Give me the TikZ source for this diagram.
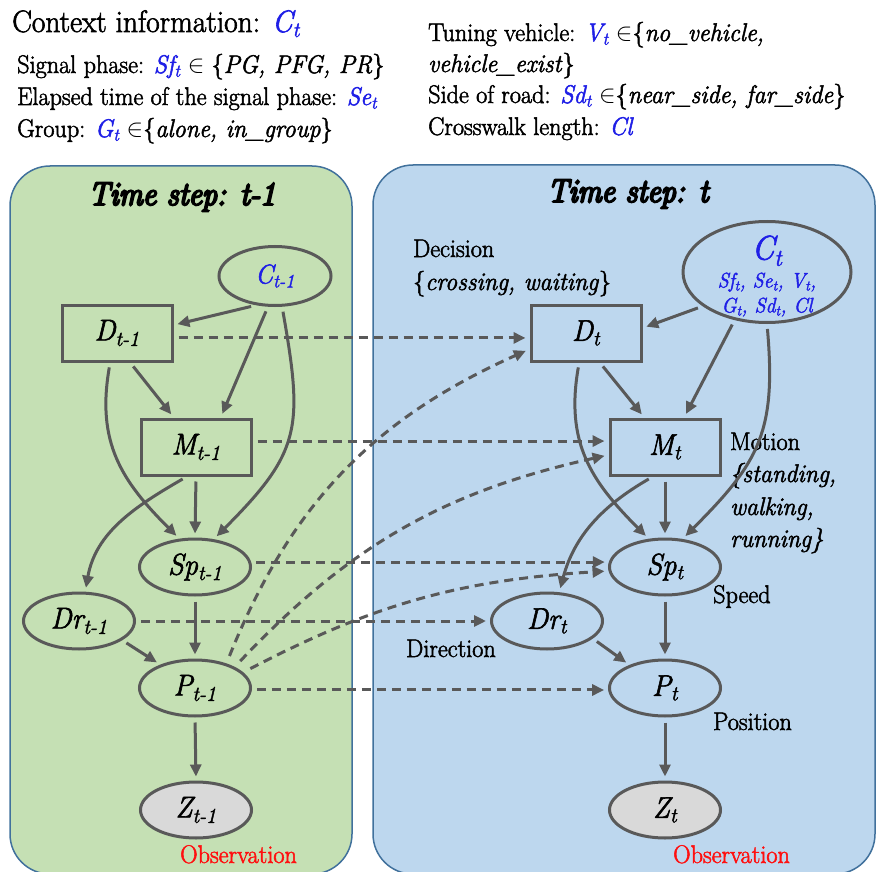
\documentclass[tikz,border=0pt]{standalone}
\usepackage{fontspec}
\setmainfont{Latin Modern Roman}[FakeStretch=0.95, FakeBold=2]
\newfontfamily\titlefont{Latin Modern Roman}[FakeStretch=0.91, FakeBold=6]
\usetikzlibrary{shapes.geometric,arrows.meta}

\definecolor{edgegray}{HTML}{595959}
\definecolor{panelgreen}{HTML}{C5E0B4}
\definecolor{panelblue}{HTML}{BDD7EE}
\definecolor{paneledge}{HTML}{41719C}
\definecolor{ctxblue}{HTML}{1F1FE6}
\definecolor{obsred}{HTML}{FF1010}
\definecolor{obsfill}{HTML}{D9D9D9}

\tikzset{
  panel/.style={draw=paneledge, line width=1.5pt, rounded corners=40pt},
  nodetext/.style={font=\fontsize{30}{36}\selectfont\itshape},
  stepbox/.style={rectangle, draw=edgegray, line width=3pt, minimum width=110pt,
    minimum height=56pt, inner sep=0pt, nodetext},
  stateoval/.style={ellipse, draw=edgegray, line width=3pt, minimum width=111pt,
    minimum height=56pt, inner sep=0pt, nodetext},
  obsoval/.style={stateoval, fill=obsfill},
  ctxoval/.style={ellipse, draw=edgegray, line width=3pt, inner sep=0pt},
  body/.style={anchor=base west, inner sep=0pt, font=\fontsize{25.5}{31}\selectfont},
  steptitle/.style={anchor=base, inner sep=0pt, font=\fontsize{33}{40}\selectfont\titlefont\itshape},
  obslabel/.style={body, text=obsred},
  conn/.style={draw=edgegray, line width=3pt, -{Triangle[length=12pt,width=11pt]},
    shorten <=5pt, shorten >=4pt},
  tconn/.style={conn, dash pattern=on 9pt off 6pt},
}

\begin{document}
\begin{tikzpicture}[x=1pt, y=-1pt]
\useasboundingbox (0,0) rectangle (876,872);

% two time slices
\draw[panel, fill=panelgreen] (10,166) rectangle (352,874);
\draw[panel, fill=panelblue] (373,165) rectangle (875,874);

\node[steptitle] (titleA) at (182,205) {Time step: t-1};
\node[steptitle] (titleB) at (628,202) {Time step: t};

% context variables
\node[body, font=\fontsize{31}{37}\selectfont] (ctxhead) at (12,32)
  {Context information: \textcolor{ctxblue}{\itshape C\textsubscript{t}}};
\node[body] (ctxsf) at (17,73)
  {Signal phase: \textcolor{ctxblue}{\itshape Sf\textsubscript{t}} $\in$ \{\textit{PG, PFG, PR}\}};
\node[body] (ctxse) at (17,105)
  {Elapsed time of the signal phase: \textcolor{ctxblue}{\itshape Se\textsubscript{t}}};
\node[body] (ctxg) at (17,137)
  {Group: \textcolor{ctxblue}{\itshape G\textsubscript{t}} $\in$\{\textit{alone, in\_group}\}};
\node[body] (ctxv) at (428,41)
  {Tuning vehicle: \textcolor{ctxblue}{\itshape V\textsubscript{t}} $\in$\{\textit{no\_vehicle,}};
\node[body] (ctxv2) at (428,72) {\textit{vehicle\_exist}\}};
\node[body] (ctxsd) at (428,103)
  {Side of road: \textcolor{ctxblue}{\itshape Sd\textsubscript{t}} $\in$\{\textit{near\_side, far\_side}\}};
\node[body] (ctxcl) at (428,135)
  {Crosswalk length: \textcolor{ctxblue}{\itshape Cl}};

% slice t-1
\node[ctxoval, minimum width=112pt, minimum height=59pt,
  font=\fontsize{27}{32}\selectfont\itshape, text=ctxblue] (C1) at (275,276) {C\textsubscript{t-1}};
\node[stepbox] (D1) at (117,333) {D\textsubscript{t-1}};
\node[stepbox] (M1) at (196,447) {M\textsubscript{t-1}};
\node[stateoval] (Sp1) at (195,567) {Sp\textsubscript{t-1}};
\node[stateoval] (Dr1) at (79,621) {Dr\textsubscript{t-1}};
\node[stateoval] (P1) at (195,688) {P\textsubscript{t-1}};
\node[obsoval] (Z1) at (196,810) {Z\textsubscript{t-1}};
\node[obslabel] (obsA) at (180,863) {Observation};

% slice t
\node[ctxoval, minimum width=168pt, minimum height=101pt] (C2) at (767,272) {};
\node[align=center, inner sep=0pt, text=ctxblue, font=\fontsize{21}{25}\selectfont\itshape] (C2txt) at (767,276)
  {{\fontsize{34}{34}\selectfont C\textsubscript{t}}\\[3pt]
   Sf\textsubscript{t}, Se\textsubscript{t}, V\textsubscript{t},\\
   G\textsubscript{t}, Sd\textsubscript{t}, Cl};
\node[stepbox] (D2) at (586,333) {D\textsubscript{t}};
\node[stepbox] (M2) at (665,447) {M\textsubscript{t}};
\node[stateoval] (Sp2) at (665,567) {Sp\textsubscript{t}};
\node[stateoval] (Dr2) at (547,621) {Dr\textsubscript{t}};
\node[stateoval] (P2) at (665,688) {P\textsubscript{t}};
\node[obsoval] (Z2) at (665,810) {Z\textsubscript{t}};
\node[obslabel] (obsB) at (673,863) {Observation};

% variable descriptions
\node[body] (decA) at (413,257) {Decision};
\node[body] (decB) at (413,290) {\{\textit{crossing, waiting}\}};
\node[body] (motA) at (730,450) {Motion};
\node[body] (motB) at (730,482) {\textit{\{standing,}};
\node[body] (motC) at (730,515) {\textit{walking,}};
\node[body] (motD) at (730,547) {\textit{running\}}};
\node[body] (spdlab) at (713,603) {Speed};
\node[body] (dirlab) at (406,657) {Direction};
\node[body] (poslab) at (713,730) {Position};

% dependencies within slice t-1
\draw[conn] (C1.237) -- (D1.8);
\draw[conn] (C1.257) -- (M1.50);
\draw[conn] (C1.283) to[out=-80, in=45, looseness=1.3] (Sp1.56);
\draw[conn] (D1.-66) -- (M1.127);
\draw[conn] (D1.-103) to[out=-100, in=135, looseness=1.1] (Sp1.119);
\draw[conn] (M1.south) -- (Sp1.north);
\draw[conn] (M1.-107) to[out=210, in=80] (Dr1.78);
\draw[conn] (Sp1.south) -- (P1.north);
\draw[conn] (Dr1.-24) -- (P1.146);
\draw[conn] (P1.south) -- (Z1.north);

% dependencies within slice t
\draw[conn] (C2.208) -- (D2.5);
\draw[conn] (C2.236) -- (M2.57);
\draw[conn] (C2.270) to[out=-85, in=45, looseness=1.2] (Sp2.58);
\draw[conn] (D2.-65) -- (M2.125);
\draw[conn] (D2.-103) to[out=-100, in=135, looseness=1.1] (Sp2.120);
\draw[conn] (M2.south) -- (Sp2.north);
\draw[conn] (M2.-112) to[out=210, in=75] (Dr2.67);
\draw[conn] (Sp2.south) -- (P2.north);
\draw[conn] (Dr2.-21) -- (P2.147);
\draw[conn] (P2.south) -- (Z2.north);

% transitions from t-1 to t
\draw[tconn] (D1.-5) -- (D2.185);
\draw[tconn] (M1.6) -- (M2.174);
\draw[tconn] (Sp1.5) -- (Sp2.175);
\draw[tconn] (Dr1.east) -- (Dr2.west);
\draw[tconn] (P1.-2) -- (P2.182);
\draw[tconn, shorten <=8pt] (P1.38) to[bend left=22] (D2.196);
\draw[tconn, shorten <=8pt] (P1.28) to[bend left=17] (M2.188);
\draw[tconn, shorten <=8pt] (P1.18) to[bend left=12] (Sp2.184);
\end{tikzpicture}
\end{document}
